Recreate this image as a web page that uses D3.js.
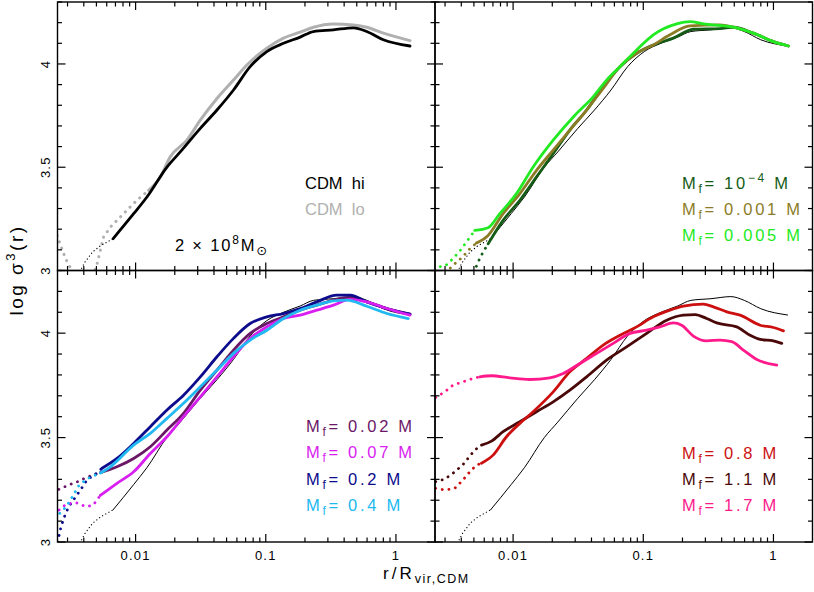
<!DOCTYPE html>
<html><head><meta charset="utf-8">
<script src="https://cdn.jsdelivr.net/npm/d3@7"></script>
<style>
body{margin:0;background:#fff}
svg{display:block}
text{font-family:"Liberation Sans",Arial,Helvetica,sans-serif}
</style>
</head><body>
<svg id="c" width="814" height="592"></svg>
<script>
// ---- data: [log10(r/Rvir,CDM), log sigma^3(r)] ----
const cdmHiSolid = [[-2.173,3.154],[-2.015,3.275],[-1.913,3.356],[-1.759,3.501],[-1.657,3.574],[-1.503,3.688],[-1.375,3.777],[-1.248,3.874],[-1.12,3.987],[-0.992,4.060],[-0.864,4.100],[-0.736,4.130],[-0.634,4.157],[-0.48,4.165],[-0.327,4.175],[-0.224,4.157],[-0.097,4.117],[0.108,4.087]];
const cdmHiDot = [[-2.44,2.98],[-2.39,3.04],[-2.33,3.09],[-2.27,3.12],[-2.173,3.154]];
const cdmLoSolid = [[-1.900,3.388],[-1.810,3.453],[-1.734,3.550],[-1.606,3.631],[-1.503,3.728],[-1.375,3.833],[-1.248,3.922],[-1.145,3.995],[-0.992,4.076],[-0.864,4.125],[-0.736,4.154],[-0.634,4.178],[-0.48,4.194],[-0.327,4.189],[-0.224,4.178],[-0.097,4.149],[0.108,4.113]];
const cdmLoDot = [[-2.62,3.20],[-2.59,3.146],[-2.54,3.06],[-2.49,3.0],[-2.42,2.93],[-2.35,2.93],[-2.296,3.032],[-2.246,3.162],[-2.194,3.210],[-2.117,3.259],[-2.054,3.30],[-1.99,3.34],[-1.900,3.388]];

const mf1e4Solid = [[-2.192,3.129],[-2.077,3.243],[-1.948,3.340],[-1.82,3.453],[-1.692,3.566],[-1.564,3.680],[-1.435,3.777],[-1.308,3.89],[-1.179,3.987],[-1.051,4.052],[-0.923,4.092],[-0.769,4.125],[-0.615,4.168],[-0.41,4.171],[-0.308,4.178],[-0.154,4.149],[0.0,4.108],[0.115,4.087]];
const mf1e4Dot = [[-2.30,2.99],[-2.27,3.04],[-2.23,3.09],[-2.192,3.129]];
const mf001Solid = [[-2.282,3.133],[-2.192,3.170],[-2.077,3.275],[-1.948,3.372],[-1.82,3.485],[-1.692,3.583],[-1.564,3.680],[-1.435,3.777],[-1.308,3.882],[-1.179,3.987],[-1.051,4.052],[-0.923,4.092],[-0.795,4.141],[-0.641,4.184],[-0.41,4.189],[-0.308,4.178],[-0.154,4.149],[0.0,4.108],[0.115,4.087]];
const mf001Dot = [[-2.52,2.99],[-2.449,3.032],[-2.389,3.065],[-2.333,3.105],[-2.282,3.133]];
const mf005Solid = [[-2.295,3.194],[-2.192,3.207],[-2.102,3.275],[-1.974,3.372],[-1.846,3.501],[-1.692,3.631],[-1.525,3.752],[-1.385,3.841],[-1.282,3.922],[-1.179,3.987],[-1.051,4.068],[-0.923,4.141],[-0.743,4.194],[-0.641,4.205],[-0.538,4.194],[-0.308,4.178],[-0.154,4.149],[0.0,4.108],[0.115,4.087]];
const mf005Dot = [[-2.61,3.012],[-2.518,3.024],[-2.462,3.057],[-2.41,3.094],[-2.358,3.138],[-2.295,3.194]];

const mf002Solid = [[-2.271,3.332],[-2.143,3.360],[-2.015,3.400],[-1.887,3.456],[-1.759,3.536],[-1.632,3.616],[-1.503,3.727],[-1.375,3.823],[-1.248,3.919],[-1.12,3.999],[-0.992,4.046],[-0.864,4.078],[-0.736,4.110],[-0.608,4.134],[-0.48,4.158],[-0.352,4.171],[-0.224,4.150],[-0.07,4.118],[0.108,4.091]];
const mf002Dot = [[-2.59,3.252],[-2.514,3.273],[-2.445,3.289],[-2.368,3.312],[-2.271,3.332]];
const mf007Solid = [[-2.271,3.223],[-2.143,3.281],[-2.015,3.336],[-1.887,3.424],[-1.759,3.504],[-1.632,3.600],[-1.503,3.695],[-1.375,3.791],[-1.248,3.887],[-1.12,3.975],[-0.992,4.030],[-0.864,4.070],[-0.736,4.086],[-0.608,4.110],[-0.48,4.134],[-0.352,4.162],[-0.224,4.150],[-0.07,4.118],[0.108,4.086]];
const mf007Dot = [[-2.588,3.153],[-2.532,3.182],[-2.455,3.188],[-2.381,3.169],[-2.327,3.176],[-2.271,3.223]];
const mf02Solid = [[-2.258,3.353],[-2.143,3.400],[-2.015,3.472],[-1.887,3.552],[-1.759,3.632],[-1.632,3.703],[-1.503,3.791],[-1.375,3.887],[-1.248,3.975],[-1.12,4.046],[-0.992,4.078],[-0.864,4.094],[-0.736,4.118],[-0.608,4.150],[-0.454,4.182],[-0.352,4.182],[-0.224,4.150],[-0.097,4.123],[0.108,4.091]];
const mf02Dot = [[-2.60,3.0],[-2.59,3.025],[-2.573,3.073],[-2.547,3.121],[-2.514,3.169],[-2.424,3.249],[-2.37,3.30],[-2.315,3.321],[-2.258,3.353]];
const mf04Solid = [[-2.27,3.33],[-2.194,3.360],[-2.015,3.464],[-1.887,3.520],[-1.759,3.592],[-1.632,3.664],[-1.503,3.743],[-1.375,3.823],[-1.248,3.903],[-1.12,3.967],[-0.992,4.014],[-0.864,4.070],[-0.736,4.110],[-0.608,4.134],[-0.48,4.155],[-0.378,4.158],[-0.224,4.129],[-0.07,4.094],[0.095,4.070]];
const mf04Dot = [[-2.583,3.137],[-2.532,3.169],[-2.488,3.214],[-2.43,3.277],[-2.35,3.31],[-2.27,3.33]];

const mf08Solid = [[-2.243,3.377],[-2.154,3.416],[-2.051,3.504],[-1.948,3.568],[-1.846,3.624],[-1.692,3.719],[-1.564,3.815],[-1.435,3.879],[-1.308,3.943],[-1.179,3.990],[-1.051,4.030],[-0.923,4.078],[-0.795,4.110],[-0.692,4.129],[-0.538,4.139],[-0.462,4.126],[-0.358,4.102],[-0.256,4.086],[-0.102,4.038],[0.0,4.027],[0.077,4.011]];
const mf08Dot = [[-2.595,3.257],[-2.525,3.249],[-2.448,3.257],[-2.385,3.297],[-2.333,3.336],[-2.282,3.368],[-2.243,3.377]];
const mf11Solid = [[-2.243,3.464],[-2.166,3.483],[-2.077,3.528],[-1.948,3.576],[-1.82,3.624],[-1.692,3.671],[-1.564,3.727],[-1.435,3.791],[-1.282,3.871],[-1.128,3.934],[-0.974,3.999],[-0.82,4.062],[-0.692,4.086],[-0.602,4.089],[-0.513,4.070],[-0.436,4.049],[-0.282,4.030],[-0.18,3.990],[-0.102,3.970],[0.0,3.963],[0.064,3.951]];
const mf11Dot = [[-2.595,3.289],[-2.525,3.301],[-2.462,3.329],[-2.389,3.368],[-2.295,3.44],[-2.243,3.464]];
const mf17Solid = [[-2.256,3.791],[-2.166,3.796],[-2.025,3.786],[-1.872,3.778],[-1.718,3.786],[-1.615,3.807],[-1.487,3.855],[-1.358,3.903],[-1.231,3.951],[-1.102,3.999],[-0.974,4.014],[-0.872,4.030],[-0.769,4.049],[-0.705,4.038],[-0.615,3.986],[-0.513,3.963],[-0.41,3.967],[-0.32,3.959],[-0.231,3.919],[-0.128,3.874],[0.026,3.847]];
const mf17Dot = [[-2.595,3.692],[-2.525,3.719],[-2.462,3.751],[-2.385,3.767],[-2.308,3.783],[-2.256,3.791]];

// axis settings
const xDomain = [Math.pow(10,-2.6), Math.pow(10,0.3)];
const yDomain = [3, 4.3];
const xMajorTicks = [0.01, 0.1, 1];
const xTickLabels = ["0.01", "0.1", "1"];
const yMajorTicks = [3, 3.5, 4];
const yTickLabels = ["3", "3.5", "4"];

const colors = {
  hi:"#000000", lo:"#b0b0b0",
  mf1e4:"#145c16", mf001:"#8c7c26", mf005:"#22ea22",
  mf002:"#6b1767", mf007:"#d81ef0", mf02:"#0c0c8c", mf04:"#22b8f2",
  mf08:"#cc1010", mf11:"#4a0808", mf17:"#ff1a8c"
};

// ---- layout ----
const svg = d3.select("#c");
const X0 = 57.5, XM = 435, X1 = 812.5, Y0 = 2, YM = 270.5, Y1 = 542;
const panels = [
  {id:"tl", x:[X0,XM], y:[Y0,YM], yl:true,  xl:false},
  {id:"tr", x:[XM,X1], y:[Y0,YM], yl:false, xl:false},
  {id:"bl", x:[X0,XM], y:[YM,Y1], yl:true,  xl:true},
  {id:"br", x:[XM,X1], y:[YM,Y1], yl:false, xl:true}
];
panels.forEach(p=>{
  p.xs = d3.scaleLog().domain(xDomain).range(p.x);
  p.ys = d3.scaleLinear().domain(yDomain).range([p.y[1], p.y[0]]);
  svg.append("clipPath").attr("id","clip-"+p.id).append("rect")
    .attr("x",p.x[0]).attr("y",p.y[0]).attr("width",p.x[1]-p.x[0]).attr("height",p.y[1]-p.y[0]);
  p.g = svg.append("g").attr("clip-path","url(#clip-"+p.id+")");
});

function draw(p, data, color, width, dotted){
  const line = d3.line().x(d=>p.xs(Math.pow(10,d[0]))).y(d=>p.ys(d[1]))
    .curve(dotted ? d3.curveLinear : d3.curveMonotoneX);
  const path = p.g.append("path").attr("d", line(data)).attr("fill","none")
    .attr("stroke", color).attr("stroke-width", width)
    .attr("stroke-linejoin","round").attr("stroke-linecap","round");
  if (dotted) path.attr("stroke-dasharray", dotted);
}
const TH = 2.8, TN = 1, DT = "0.1 6.6", DN = "0.1 3.5";

const [tl,tr,bl,br] = panels;
draw(tl, cdmLoDot, colors.lo, 3, DT);
draw(tl, cdmLoSolid, colors.lo, 3);
draw(tl, cdmHiDot, colors.hi, 1.2, DN);
draw(tl, cdmHiSolid, colors.hi, TH);
[tr,bl,br].forEach(p=>{ draw(p, cdmHiDot, colors.hi, 1.2, DN); draw(p, cdmHiSolid, colors.hi, TN); });
draw(tr, mf1e4Dot, colors.mf1e4, 2.8, DT); draw(tr, mf1e4Solid, colors.mf1e4, TH);
draw(tr, mf001Dot, colors.mf001, 2.8, DT); draw(tr, mf001Solid, colors.mf001, TH);
draw(tr, mf005Dot, colors.mf005, 2.8, DT); draw(tr, mf005Solid, colors.mf005, TH);
draw(bl, mf002Dot, colors.mf002, 2.8, DT); draw(bl, mf002Solid, colors.mf002, TH);
draw(bl, mf02Dot, colors.mf02, 2.8, DT); draw(bl, mf02Solid, colors.mf02, TH);
draw(bl, mf007Dot, colors.mf007, 2.8, DT); draw(bl, mf007Solid, colors.mf007, TH);
draw(bl, mf04Dot, colors.mf04, 2.8, DT); draw(bl, mf04Solid, colors.mf04, TH);
draw(br, mf11Dot, colors.mf11, 2.8, DT); draw(br, mf11Solid, colors.mf11, TH);
draw(br, mf08Dot, colors.mf08, 2.8, DT); draw(br, mf08Solid, colors.mf08, TH);
draw(br, mf17Dot, colors.mf17, 2.8, DT); draw(br, mf17Solid, colors.mf17, TH);

// ---- ticks and frames ----
const axG = svg.append("g").attr("stroke","#000").attr("stroke-width",1.2);
const MAJ = 8, MIN = 4.5;
const xMinor = [];
for (let e=-3;e<=0;e++) for (let k=2;k<=9;k++){ const v=k*Math.pow(10,e); if(v>=xDomain[0]&&v<=xDomain[1]) xMinor.push(v); }
const yMinor = d3.range(30,44).map(d=>d/10).filter(v=>!yMajorTicks.includes(v));
panels.forEach(p=>{
  const xt = xMajorTicks.map(v=>[v,MAJ]).concat(xMinor.map(v=>[v,MIN]));
  xt.forEach(([v,l])=>{
    const x = p.xs(v);
    axG.append("line").attr("x1",x).attr("x2",x).attr("y1",p.y[1]).attr("y2",p.y[1]-l);
    axG.append("line").attr("x1",x).attr("x2",x).attr("y1",p.y[0]).attr("y2",p.y[0]+l);
  });
  const yt = yMajorTicks.map(v=>[v,MAJ]).concat(yMinor.map(v=>[v,MIN]));
  yt.forEach(([v,l])=>{
    const y = p.ys(v);
    axG.append("line").attr("y1",y).attr("y2",y).attr("x1",p.x[0]).attr("x2",p.x[0]+l);
    axG.append("line").attr("y1",y).attr("y2",y).attr("x1",p.x[1]).attr("x2",p.x[1]-l);
  });
  axG.append("rect").attr("x",p.x[0]).attr("y",p.y[0]).attr("width",p.x[1]-p.x[0]).attr("height",p.y[1]-p.y[0])
    .attr("fill","none").attr("stroke-width",1.4);
  if (p.xl) xMajorTicks.forEach((v,i)=>{
    svg.append("text").attr("x",p.xs(v)).attr("y",560).attr("text-anchor","middle")
      .attr("font-size",13).style("letter-spacing","1.2px").text(xTickLabels[i]);
  });
  if (p.yl) yMajorTicks.forEach((v,i)=>{
    const y = p.ys(v);
    svg.append("text").attr("transform",`translate(49.5,${y}) rotate(-90)`).attr("text-anchor","middle")
      .attr("font-size",13).style("letter-spacing","1.2px").text(yTickLabels[i]);
  });
});

// ---- axis titles ----
const ytt = svg.append("text").attr("transform","translate(23,270) rotate(-90)").attr("text-anchor","middle")
  .attr("font-size",19).style("letter-spacing","2.5px").style("white-space","pre");
ytt.append("tspan").text("log σ");
ytt.append("tspan").attr("dy",-8).attr("font-size",13).text("3");
ytt.append("tspan").attr("dy",8).text("(r)");
const xtt = svg.append("text").attr("x",383).attr("y",579).attr("font-size",17).style("letter-spacing","3px");
xtt.append("tspan").text("r/R");
xtt.append("tspan").attr("dy",4).attr("font-size",12.5).style("letter-spacing","1.5px").text("vir,CDM");

// ---- legends ----
function legendCDM(x,y,color,label){
  svg.append("text").attr("x",x).attr("y",y).attr("font-size",16.5).attr("fill",color)
    .style("white-space","pre").text(label);
}
legendCDM(305,189,colors.hi,"CDM  hi");
legendCDM(305,215,colors.lo,"CDM  lo");
const massT = svg.append("text").attr("x",175).attr("y",251).attr("font-size",16.5)
  .style("white-space","pre").style("letter-spacing","1.8px");
massT.append("tspan").text("2 × 10");
massT.append("tspan").attr("dy",-7).attr("font-size",12).text("8");
massT.append("tspan").attr("dy",7).text("M");
massT.append("tspan").attr("dy",4).attr("font-size",13).attr("font-family","DejaVu Sans").text("⊙");

function legendMf(x,y,color,val,sup){
  const t = svg.append("text").attr("x",x).attr("y",y).attr("font-size",16.5).attr("fill",color)
    .style("white-space","pre").style("letter-spacing","2.7px");
  t.append("tspan").text("M");
  t.append("tspan").attr("dy",4).attr("font-size",12).text("f");
  t.append("tspan").attr("dy",-4).text("= "+val);
  if (sup){ t.append("tspan").attr("dy",-7).attr("font-size",12).text(sup); t.append("tspan").attr("dy",7).text(" M"); }
  else t.append("tspan").text(" M");
}
legendMf(682,189,colors.mf1e4,"10","−4");
legendMf(682,215,colors.mf001,"0.001");
legendMf(682,241,colors.mf005,"0.005");
legendMf(306,432,colors.mf002,"0.02");
legendMf(306,458,colors.mf007,"0.07");
legendMf(306,485,colors.mf02,"0.2");
legendMf(306,511,colors.mf04,"0.4");
legendMf(682,459,colors.mf08,"0.8");
legendMf(682,485,colors.mf11,"1.1");
legendMf(682,511,colors.mf17,"1.7");
</script>
</body></html>
